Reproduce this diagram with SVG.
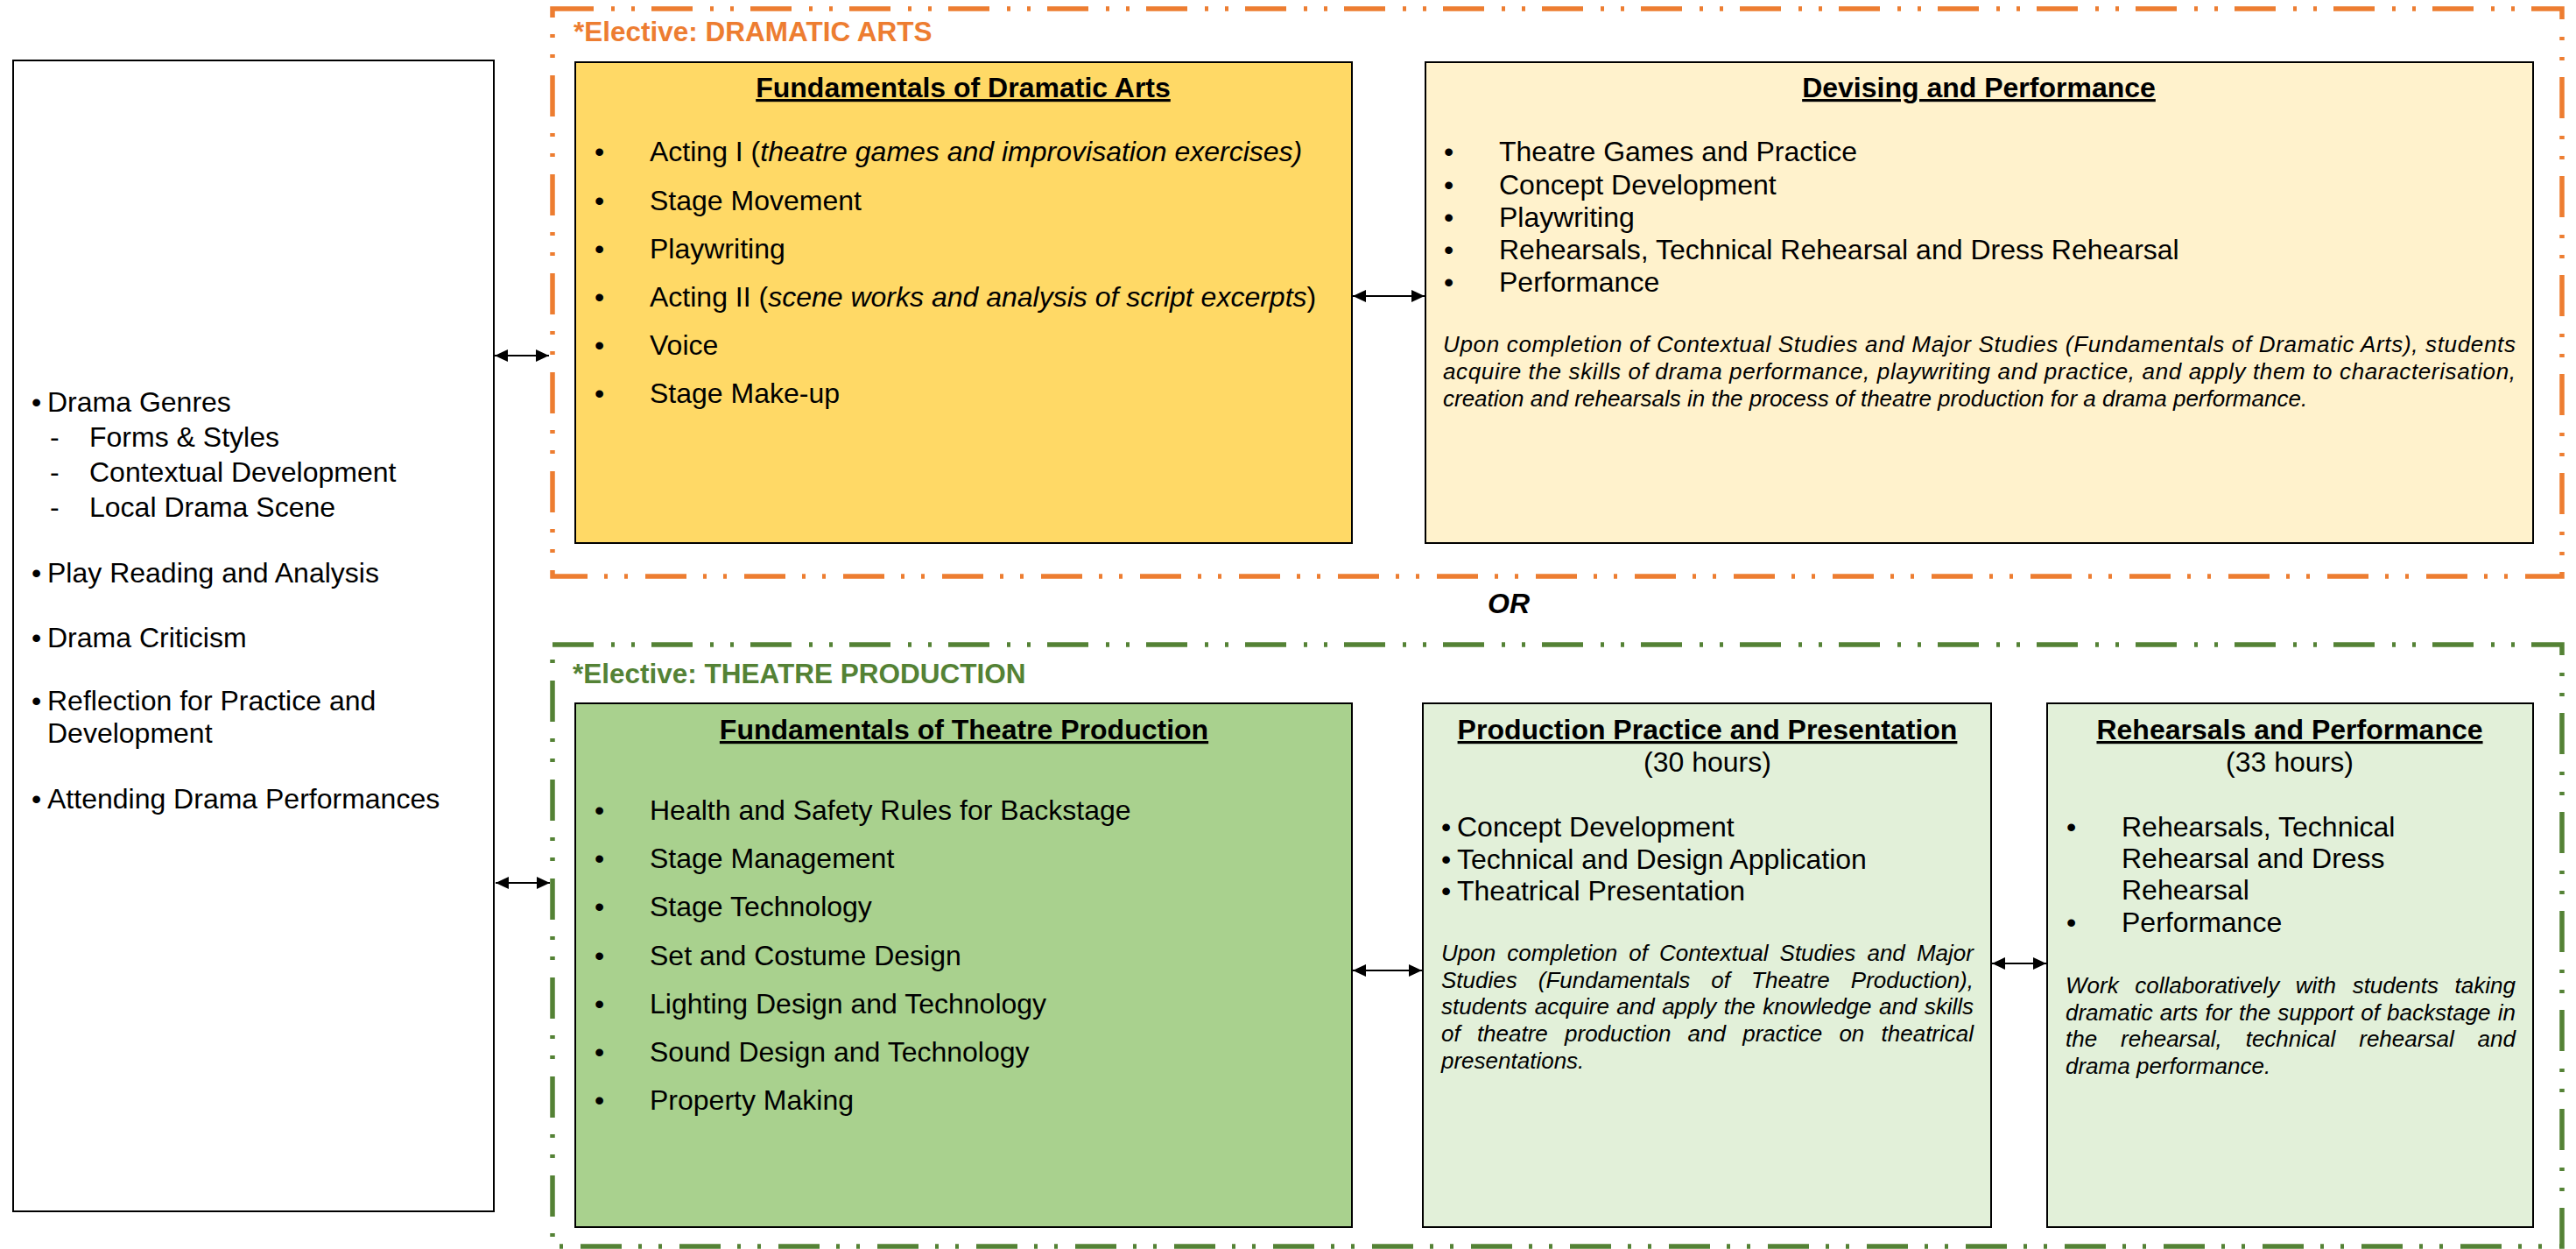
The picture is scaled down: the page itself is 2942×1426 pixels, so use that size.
<svg xmlns="http://www.w3.org/2000/svg" width="2942" height="1426" viewBox="0 0 2942 1426">
<defs>
<marker id="ah" markerUnits="userSpaceOnUse" markerWidth="16" markerHeight="16" refX="15" refY="7" orient="auto-start-reverse">
<path d="M0,0 L15,7 L0,14 z" fill="#000"/>
</marker>
<style>
text{font-family:"Liberation Sans",Arial,sans-serif;fill:#000}
.b{font-size:32px}
.h{font-size:32px;font-weight:bold;text-decoration:underline}
.i{font-size:26px;font-style:italic}
.box{stroke:#000;stroke-width:2}
.grp{fill:none;stroke-width:5.5;stroke-dasharray:47 20 4 19 4 19}
.lbl{font-size:31.5px;font-weight:bold}
.conn line{stroke:#000;stroke-width:2;marker-start:url(#ah);marker-end:url(#ah)}
</style>
</defs>
<rect width="2942" height="1426" fill="#fff"/>

<g id="group-dramatic-arts">
<rect class="grp" x="631" y="10" width="2295" height="648" stroke="#ED7D31"/>
<text class="lbl" x="655" y="47" style="fill:#ED7D31">*Elective: DRAMATIC ARTS</text>
</g>

<g id="group-theatre-production">
<rect class="grp" x="631" y="736" width="2295" height="687" stroke="#548235"/>
<text class="lbl" x="654" y="780" style="fill:#548235">*Elective: THEATRE PRODUCTION</text>
</g>

<g id="node-contextual">
<rect class="box" x="15" y="69" width="549" height="1314" fill="#fff"/>
<text class="b" x="36" y="470">•</text><text class="b" x="54" y="470">Drama Genres</text>
<text class="b" x="57" y="510">-</text><text class="b" x="102" y="510">Forms &amp; Styles</text>
<text class="b" x="57" y="550">-</text><text class="b" x="102" y="550">Contextual Development</text>
<text class="b" x="57" y="590">-</text><text class="b" x="102" y="590">Local Drama Scene</text>
<text class="b" x="36" y="665">•</text><text class="b" x="54" y="665">Play Reading and Analysis</text>
<text class="b" x="36" y="739">•</text><text class="b" x="54" y="739">Drama Criticism</text>
<text class="b" x="36" y="811">•</text><text class="b" x="54" y="811">Reflection for Practice and</text>
<text class="b" x="54" y="848">Development</text>
<text class="b" x="36" y="923">•</text><text class="b" x="54" y="923">Attending Drama Performances</text>
</g>

<g id="node-fundamentals-dramatic-arts">
<rect class="box" x="657" y="71" width="887" height="549" fill="#FFD966"/>
<text class="h" x="1100" y="111" text-anchor="middle">Fundamentals of Dramatic Arts</text>
<text class="b" x="679" y="184">•</text><text class="b" x="742" y="184">Acting I (<tspan font-style="italic">theatre games and improvisation exercises)</tspan></text>
<text class="b" x="679" y="240">•</text><text class="b" x="742" y="240">Stage Movement</text>
<text class="b" x="679" y="295">•</text><text class="b" x="742" y="295">Playwriting</text>
<text class="b" x="679" y="350">•</text><text class="b" x="742" y="350">Acting II (<tspan font-style="italic">scene works and analysis of script excerpts</tspan>)</text>
<text class="b" x="679" y="405">•</text><text class="b" x="742" y="405">Voice</text>
<text class="b" x="679" y="460">•</text><text class="b" x="742" y="460">Stage Make-up</text>
</g>

<g id="node-devising-performance">
<rect class="box" x="1628" y="71" width="1265" height="549" fill="#FFF2CC"/>
<text class="h" x="2260" y="111" text-anchor="middle">Devising and Performance</text>
<text class="b" x="1649" y="184">•</text><text class="b" x="1712" y="184">Theatre Games and Practice</text>
<text class="b" x="1649" y="222">•</text><text class="b" x="1712" y="222">Concept Development</text>
<text class="b" x="1649" y="259">•</text><text class="b" x="1712" y="259">Playwriting</text>
<text class="b" x="1649" y="296">•</text><text class="b" x="1712" y="296">Rehearsals, Technical Rehearsal and Dress Rehearsal</text>
<text class="b" x="1649" y="333">•</text><text class="b" x="1712" y="333">Performance</text>
<text class="i" x="1648" y="402" textLength="1225" lengthAdjust="spacing">Upon completion of Contextual Studies and Major Studies (Fundamentals of Dramatic Arts), students</text>
<text class="i" x="1648" y="433" textLength="1225" lengthAdjust="spacing">acquire the skills of drama performance, playwriting and practice, and apply them to characterisation,</text>
<text class="i" x="1648" y="464">creation and rehearsals in the process of theatre production for a drama performance.</text>
</g>

<text x="1699" y="700" style="font-size:32px;font-weight:bold;font-style:italic">OR</text>

<g id="node-fundamentals-theatre-production">
<rect class="box" x="657" y="803" width="887" height="598" fill="#A9D18E"/>
<text class="h" x="1101" y="844" text-anchor="middle">Fundamentals of Theatre Production</text>
<text class="b" x="679" y="936">•</text><text class="b" x="742" y="936">Health and Safety Rules for Backstage</text>
<text class="b" x="679" y="991">•</text><text class="b" x="742" y="991">Stage Management</text>
<text class="b" x="679" y="1046">•</text><text class="b" x="742" y="1046">Stage Technology</text>
<text class="b" x="679" y="1102">•</text><text class="b" x="742" y="1102">Set and Costume Design</text>
<text class="b" x="679" y="1157">•</text><text class="b" x="742" y="1157">Lighting Design and Technology</text>
<text class="b" x="679" y="1212">•</text><text class="b" x="742" y="1212">Sound Design and Technology</text>
<text class="b" x="679" y="1267">•</text><text class="b" x="742" y="1267">Property Making</text>
</g>

<g id="node-production-practice">
<rect class="box" x="1625" y="803" width="649" height="598" fill="#E2F0D9"/>
<text class="h" x="1950" y="844" text-anchor="middle">Production Practice and Presentation</text>
<text class="b" x="1950" y="881" text-anchor="middle">(30 hours)</text>
<text class="b" x="1646" y="955">•</text><text class="b" x="1664" y="955">Concept Development</text>
<text class="b" x="1646" y="992">•</text><text class="b" x="1664" y="992">Technical and Design Application</text>
<text class="b" x="1646" y="1028">•</text><text class="b" x="1664" y="1028">Theatrical Presentation</text>
<text class="i" x="1646" y="1097" word-spacing="5.9" textLength="608" lengthAdjust="spacing">Upon completion of Contextual Studies and Major</text>
<text class="i" x="1646" y="1128" word-spacing="16.9" textLength="608" lengthAdjust="spacing">Studies (Fundamentals of Theatre Production),</text>
<text class="i" x="1646" y="1158" word-spacing="1.2" textLength="608" lengthAdjust="spacing">students acquire and apply the knowledge and skills</text>
<text class="i" x="1646" y="1189" word-spacing="12" textLength="608" lengthAdjust="spacing">of theatre production and practice on theatrical</text>
<text class="i" x="1646" y="1220">presentations.</text>
</g>

<g id="node-rehearsals-performance">
<rect class="box" x="2338" y="803" width="555" height="598" fill="#E2F0D9"/>
<text class="h" x="2615" y="844" text-anchor="middle">Rehearsals and Performance</text>
<text class="b" x="2615" y="881" text-anchor="middle">(33 hours)</text>
<text class="b" x="2360" y="955">•</text><text class="b" x="2423" y="955">Rehearsals, Technical</text>
<text class="b" x="2423" y="991">Rehearsal and Dress</text>
<text class="b" x="2423" y="1027">Rehearsal</text>
<text class="b" x="2360" y="1064">•</text><text class="b" x="2423" y="1064">Performance</text>
<text class="i" x="2359" y="1134" word-spacing="11.4" textLength="514" lengthAdjust="spacing">Work collaboratively with students taking</text>
<text class="i" x="2359" y="1165" word-spacing="1" textLength="514" lengthAdjust="spacing">dramatic arts for the support of backstage in</text>
<text class="i" x="2359" y="1195" word-spacing="19.7" textLength="514" lengthAdjust="spacing">the rehearsal, technical rehearsal and</text>
<text class="i" x="2359" y="1226">drama performance.</text>
</g>

<g id="connectors" class="conn">
<line x1="565" y1="406" x2="627" y2="406"/>
<line x1="566" y1="1008" x2="628" y2="1008"/>
<line x1="1545" y1="338" x2="1627" y2="338"/>
<line x1="1545" y1="1108" x2="1624" y2="1108"/>
<line x1="2275" y1="1100" x2="2337" y2="1100"/>
</g>
</svg>
